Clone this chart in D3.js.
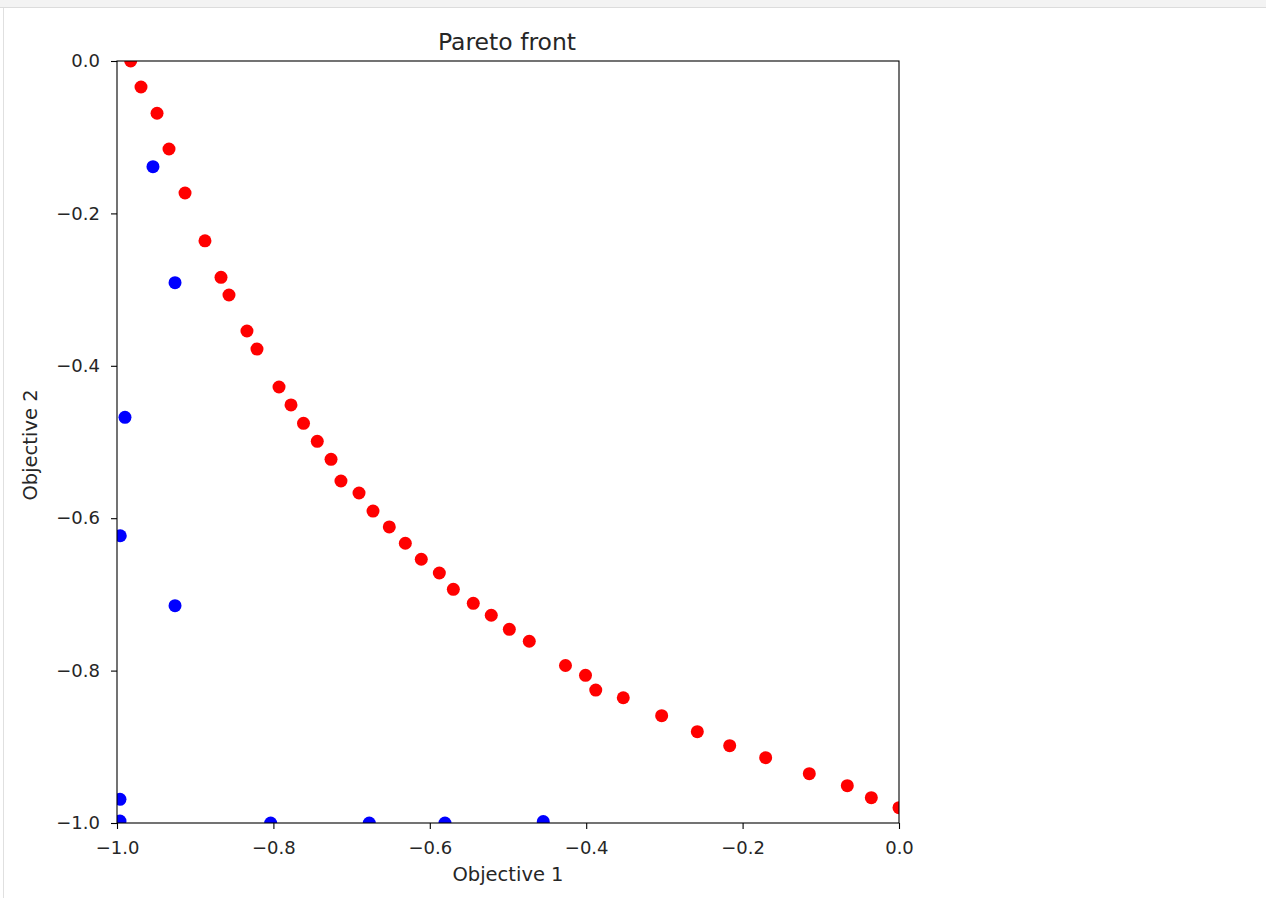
<!DOCTYPE html>
<html>
<head>
<meta charset="utf-8">
<script src="https://cdn.jsdelivr.net/npm/d3@7"></script>
<style>
  body { margin: 0; background: #fff; }
  svg { display: block; font-family: "DejaVu Sans", sans-serif; }
</style>
</head>
<body>
<svg id="chart" width="1266" height="898"></svg>
<script>
// Pareto front points (red)
const frontX = [-0.9825, -0.9693, -0.9488, -0.9335, -0.9130, -0.8875, -0.8670, -0.8568, -0.8338, -0.8210,
  -0.7928, -0.7775, -0.7615, -0.7439, -0.7263, -0.7136, -0.6905, -0.6726, -0.6518, -0.6313,
  -0.6109, -0.5878, -0.5699, -0.5444, -0.5214, -0.4983, -0.4728, -0.4265, -0.4009, -0.3878,
  -0.3526, -0.3035, -0.2579, -0.2165, -0.1705, -0.1147, -0.0661, -0.0354, 0.0];
const frontY = [0.0, -0.0341, -0.0686, -0.1155, -0.1732, -0.2360, -0.2839, -0.3071, -0.3543, -0.3780,
  -0.4278, -0.4514, -0.4755, -0.4991, -0.5227, -0.5512, -0.5669, -0.5906, -0.6115, -0.6329,
  -0.6539, -0.6719, -0.6933, -0.7117, -0.7274, -0.7458, -0.7615, -0.7933, -0.8062, -0.8255,
  -0.8356, -0.8592, -0.8802, -0.8985, -0.9143, -0.9353, -0.9510, -0.9668, -0.9799];

// other solutions (blue)
const otherX = [-0.9540, -0.9258, -0.9898, -0.9958, -0.9258, -0.9962, -0.9962, -0.8035, -0.6774, -0.5806, -0.4549];
const otherY = [-0.1387, -0.2909, -0.4676, -0.6230, -0.7148, -0.9689, -0.9974, -1.0, -1.0, -1.0, -0.998];

const ticks = [-1.0, -0.8, -0.6, -0.4, -0.2, 0.0];

const svg = d3.select('#chart');

// notebook cell chrome
svg.append('rect').attr('x', 0).attr('y', 0).attr('width', 1266).attr('height', 7).attr('fill', '#f3f3f3');
svg.append('line').attr('x1', 0).attr('x2', 1266).attr('y1', 7.5).attr('y2', 7.5).attr('stroke', '#dcdcdc');
svg.append('line').attr('x1', 3.5).attr('x2', 3.5).attr('y1', 8).attr('y2', 898).attr('stroke', '#e0e0e0');

const plotLeft = 117, plotRight = 899, plotTop = 61, plotBottom = 823;

const x = d3.scaleLinear().domain([-1, 0]).range([plotLeft, plotRight]);
const y = d3.scaleLinear().domain([-1, 0]).range([plotBottom, plotTop]);

svg.append('clipPath').attr('id', 'plotClip')
  .append('rect')
  .attr('x', plotLeft).attr('y', plotTop)
  .attr('width', plotRight - plotLeft).attr('height', plotBottom - plotTop);

const pts = svg.append('g').attr('clip-path', 'url(#plotClip)');

pts.selectAll('circle.front')
  .data(d3.zip(frontX, frontY))
  .join('circle')
  .attr('class', 'front')
  .attr('cx', d => x(d[0]))
  .attr('cy', d => y(d[1]))
  .attr('r', 6.5)
  .attr('fill', '#ff0000');

pts.selectAll('circle.other')
  .data(d3.zip(otherX, otherY))
  .join('circle')
  .attr('class', 'other')
  .attr('cx', d => x(d[0]))
  .attr('cy', d => y(d[1]))
  .attr('r', 6.5)
  .attr('fill', '#0000ff');

const fmt = d3.format('.1f');

const xAxis = svg.append('g')
  .attr('transform', `translate(0,${plotBottom})`)
  .call(d3.axisBottom(x).tickValues(ticks).tickFormat(fmt).tickSizeOuter(0).tickSize(6).tickPadding(12));

const yAxis = svg.append('g')
  .attr('transform', `translate(${plotLeft},0)`)
  .call(d3.axisLeft(y).tickValues(ticks).tickFormat(fmt).tickSizeOuter(0).tickSize(6).tickPadding(11));

[xAxis, yAxis].forEach(a => {
  a.select('.domain').remove();
  a.selectAll('line').attr('stroke', '#000').attr('stroke-width', 1.1);
  a.selectAll('text').attr('font-family', 'DejaVu Sans').attr('font-size', 18).attr('fill', '#262626');
});

// frame
svg.append('rect')
  .attr('x', plotLeft).attr('y', plotTop)
  .attr('width', plotRight - plotLeft).attr('height', plotBottom - plotTop)
  .attr('fill', 'none').attr('stroke', '#000').attr('stroke-width', 1.1);

svg.append('text')
  .attr('x', (plotLeft + plotRight) / 2 - 1).attr('y', 49.5)
  .attr('text-anchor', 'middle')
  .attr('font-size', 23.5).attr('fill', '#262626')
  .text('Pareto front');

svg.append('text')
  .attr('x', (plotLeft + plotRight) / 2).attr('y', 881)
  .attr('text-anchor', 'middle')
  .attr('font-size', 19.5).attr('fill', '#262626')
  .text('Objective 1');

svg.append('text')
  .attr('transform', `translate(37,${(plotTop + plotBottom) / 2 + 3}) rotate(-90)`)
  .attr('text-anchor', 'middle')
  .attr('font-size', 19.5).attr('fill', '#262626')
  .text('Objective 2');
</script>
</body>
</html>
